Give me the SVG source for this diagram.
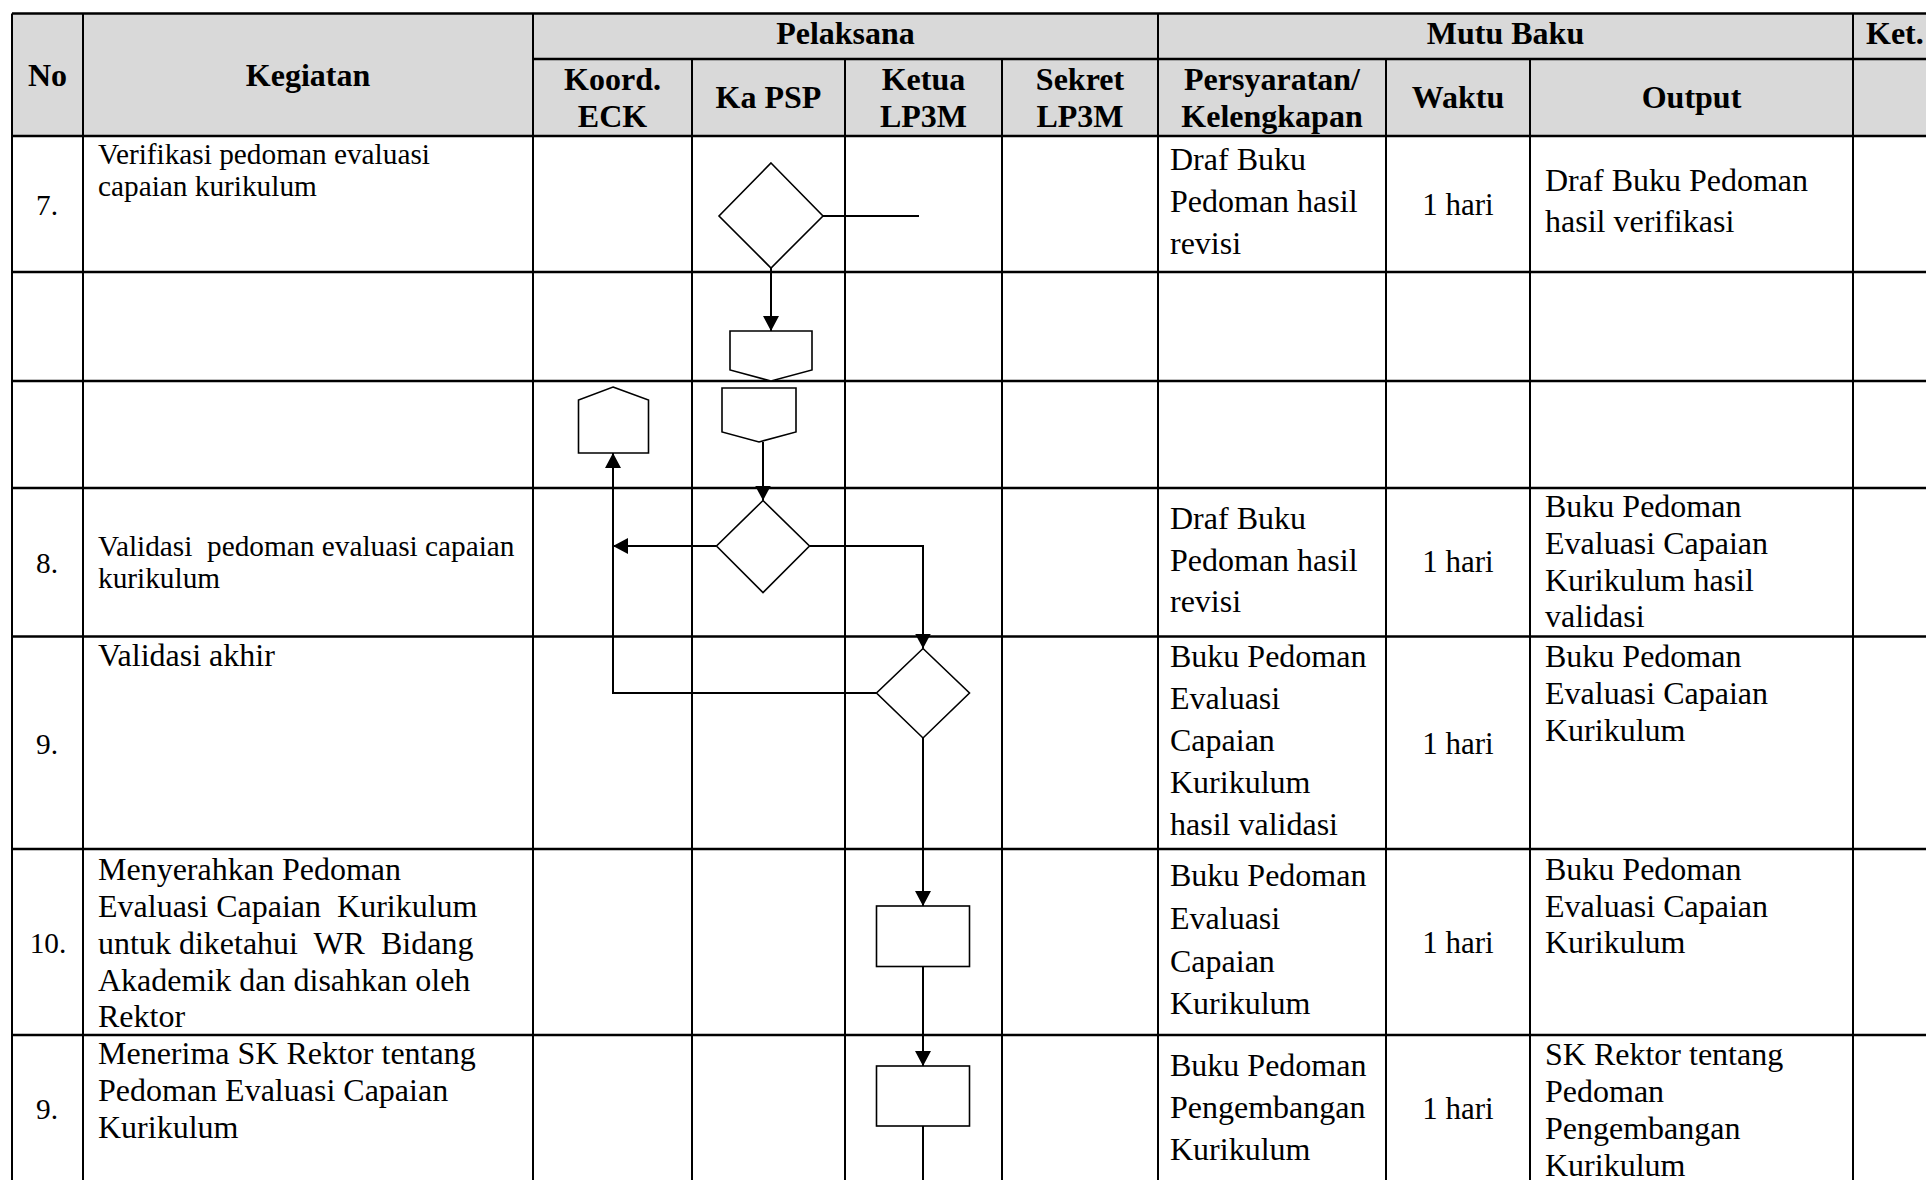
<svg xmlns="http://www.w3.org/2000/svg" width="1926" height="1180" viewBox="0 0 1926 1180">
<style>
.h{font-family:"Liberation Serif","Times New Roman",serif;font-weight:bold;font-size:32px;text-anchor:middle;fill:#000}
.t{font-family:"Liberation Serif","Times New Roman",serif;font-size:32px;fill:#000;white-space:pre}
.s{font-size:29.3px}
.w{font-size:31px}
.c{text-anchor:middle}
.grid line{stroke:#000;stroke-width:2}
.grid line.hz{stroke-width:2.6}
.shape{fill:#fff;stroke:#000;stroke-width:1.6}
.conn{fill:none;stroke:#000;stroke-width:2}
</style>
<defs>
<marker id="arr" markerUnits="userSpaceOnUse" markerWidth="16" markerHeight="16" refX="15" refY="8" orient="auto"><path d="M0,0 L15,8 L0,16 z" fill="#000"/></marker>
</defs>
<rect width="1926" height="1180" fill="#fff"/>
<g id="table">
<rect x="12" y="13.5" width="1914" height="122.5" fill="#d9d9d9"/>
<g class="grid">
<line class="hz" x1="12" y1="13.5" x2="1926" y2="13.5"/>
<line class="hz" x1="533" y1="59" x2="1926" y2="59"/>
<line class="hz" x1="12" y1="136" x2="1926" y2="136"/>
<line class="hz" x1="12" y1="272" x2="1926" y2="272"/>
<line class="hz" x1="12" y1="381" x2="1926" y2="381"/>
<line class="hz" x1="12" y1="488" x2="1926" y2="488"/>
<line class="hz" x1="12" y1="636.5" x2="1926" y2="636.5"/>
<line class="hz" x1="12" y1="849" x2="1926" y2="849"/>
<line class="hz" x1="12" y1="1035" x2="1926" y2="1035"/>
<line x1="12" y1="13.5" x2="12" y2="1180"/>
<line x1="83" y1="13.5" x2="83" y2="1180"/>
<line x1="533" y1="13.5" x2="533" y2="1180"/>
<line x1="692" y1="59" x2="692" y2="1180"/>
<line x1="845" y1="59" x2="845" y2="1180"/>
<line x1="1002" y1="59" x2="1002" y2="1180"/>
<line x1="1158" y1="13.5" x2="1158" y2="1180"/>
<line x1="1386" y1="59" x2="1386" y2="1180"/>
<line x1="1530" y1="59" x2="1530" y2="1180"/>
<line x1="1853" y1="13.5" x2="1853" y2="1180"/>
</g>
<g id="header">
<text class="h" x="845.5" y="44">Pelaksana</text>
<text class="h" x="1505.5" y="44">Mutu Baku</text>
<text class="h" x="1866" y="44" text-anchor="start" style="text-anchor:start">Ket.</text>
<text class="h" x="47.5" y="86">No</text>
<text class="h" x="308" y="86">Kegiatan</text>
<text class="h" x="612.5" y="90">Koord.</text>
<text class="h" x="612.5" y="127">ECK</text>
<text class="h" x="768.5" y="108">Ka PSP</text>
<text class="h" x="923.5" y="90">Ketua</text>
<text class="h" x="923.5" y="127">LP3M</text>
<text class="h" x="1080" y="90">Sekret</text>
<text class="h" x="1080" y="127">LP3M</text>
<text class="h" x="1272" y="90">Persyaratan/</text>
<text class="h" x="1272" y="127">Kelengkapan</text>
<text class="h" x="1458" y="108">Waktu</text>
<text class="h" x="1691.5" y="108">Output</text>
</g>
<g id="row7">
<text class="t s c" x="47" y="215">7.</text>
<text class="t s" x="98" y="164">Verifikasi pedoman evaluasi</text>
<text class="t s" x="98" y="196">capaian kurikulum</text>
<text class="t" x="1170" y="170">Draf Buku</text>
<text class="t" x="1170" y="212">Pedoman hasil</text>
<text class="t" x="1170" y="254">revisi</text>
<text class="t w c" x="1458" y="215">1 hari</text>
<text class="t" x="1545" y="191">Draf Buku Pedoman</text>
<text class="t" x="1545" y="232">hasil verifikasi</text>
</g>
<g id="row8">
<text class="t s c" x="47" y="573">8.</text>
<text class="t s" x="98" y="556">Validasi  pedoman evaluasi capaian</text>
<text class="t s" x="98" y="588">kurikulum</text>
<text class="t" x="1170" y="529">Draf Buku</text>
<text class="t" x="1170" y="571">Pedoman hasil</text>
<text class="t" x="1170" y="612">revisi</text>
<text class="t w c" x="1458" y="572">1 hari</text>
<text class="t" x="1545" y="517">Buku Pedoman</text>
<text class="t" x="1545" y="554">Evaluasi Capaian</text>
<text class="t" x="1545" y="591">Kurikulum hasil</text>
<text class="t" x="1545" y="627">validasi</text>
</g>
<g id="row9">
<text class="t s c" x="47" y="754">9.</text>
<text class="t" x="98" y="666">Validasi akhir</text>
<text class="t" x="1170" y="667">Buku Pedoman</text>
<text class="t" x="1170" y="709">Evaluasi</text>
<text class="t" x="1170" y="751">Capaian</text>
<text class="t" x="1170" y="793">Kurikulum</text>
<text class="t" x="1170" y="835">hasil validasi</text>
<text class="t w c" x="1458" y="754">1 hari</text>
<text class="t" x="1545" y="667">Buku Pedoman</text>
<text class="t" x="1545" y="704">Evaluasi Capaian</text>
<text class="t" x="1545" y="741">Kurikulum</text>
</g>
<g id="row10">
<text class="t s c" x="48" y="953">10.</text>
<text class="t" x="98" y="880">Menyerahkan Pedoman</text>
<text class="t" x="98" y="917">Evaluasi Capaian  Kurikulum</text>
<text class="t" x="98" y="954">untuk diketahui  WR  Bidang</text>
<text class="t" x="98" y="991">Akademik dan disahkan oleh</text>
<text class="t" x="98" y="1027">Rektor</text>
<text class="t" x="1170" y="886">Buku Pedoman</text>
<text class="t" x="1170" y="929">Evaluasi</text>
<text class="t" x="1170" y="972">Capaian</text>
<text class="t" x="1170" y="1014">Kurikulum</text>
<text class="t w c" x="1458" y="953">1 hari</text>
<text class="t" x="1545" y="880">Buku Pedoman</text>
<text class="t" x="1545" y="917">Evaluasi Capaian</text>
<text class="t" x="1545" y="953">Kurikulum</text>
</g>
<g id="row11">
<text class="t s c" x="47" y="1119">9.</text>
<text class="t" x="98" y="1064">Menerima SK Rektor tentang</text>
<text class="t" x="98" y="1101">Pedoman Evaluasi Capaian</text>
<text class="t" x="98" y="1138">Kurikulum</text>
<text class="t" x="1170" y="1076">Buku Pedoman</text>
<text class="t" x="1170" y="1118">Pengembangan</text>
<text class="t" x="1170" y="1160">Kurikulum</text>
<text class="t w c" x="1458" y="1119">1 hari</text>
<text class="t" x="1545" y="1065">SK Rektor tentang</text>
<text class="t" x="1545" y="1102">Pedoman</text>
<text class="t" x="1545" y="1139">Pengembangan</text>
<text class="t" x="1545" y="1176">Kurikulum</text>
</g>
</g>
<g id="connectors">
<line class="conn" x1="823" y1="216" x2="919" y2="216"/>
<line class="conn" x1="771" y1="268" x2="771" y2="331" marker-end="url(#arr)"/>
<line class="conn" x1="763" y1="442" x2="763" y2="500.5" marker-end="url(#arr)"/>
<line class="conn" x1="716.5" y1="546" x2="613" y2="546" stroke-width="2.6" marker-end="url(#arr)"/>
<polyline class="conn" points="809.5,546 923,546 923,648.5" marker-end="url(#arr)"/>
<polyline class="conn" points="876.5,693 613,693 613,453" marker-end="url(#arr)"/>
<line class="conn" x1="923" y1="738" x2="923" y2="906" marker-end="url(#arr)"/>
<line class="conn" x1="923" y1="966.5" x2="923" y2="1066" marker-end="url(#arr)"/>
<line class="conn" x1="923" y1="1126" x2="923" y2="1180"/>
</g>
<g id="decision1"><polygon class="shape" points="771,163 823,216 771,268 719,216"/></g>
<g id="offpage1"><polygon class="shape" points="730,331 812,331 812,370 771,381 730,370"/></g>
<g id="offpage2"><polygon class="shape" points="722,388 796,388 796,432 759,442 722,432"/></g>
<g id="offpage3"><polygon class="shape" points="613,387 648.5,400 648.5,453 578.5,453 578.5,400"/></g>
<g id="decision2"><polygon class="shape" points="763,500.5 809.5,546 763,592.5 716.5,546"/></g>
<g id="decision3"><polygon class="shape" points="923,648.5 969.5,693 923,738 876.5,693"/></g>
<g id="process1"><rect class="shape" x="876.5" y="906" width="93" height="60.5"/></g>
<g id="process2"><rect class="shape" x="876.5" y="1066" width="93" height="60"/></g>
</svg>
